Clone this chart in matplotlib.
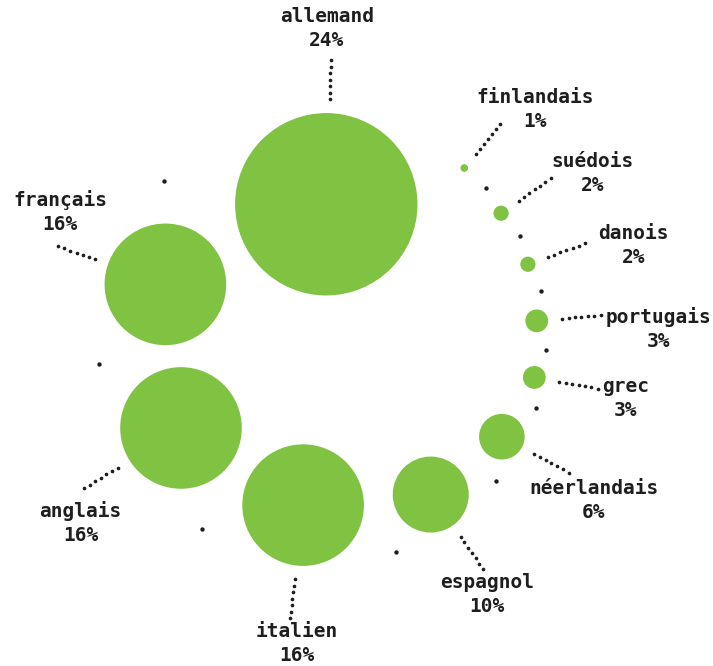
import numpy as np
import matplotlib.pyplot as plt
from matplotlib.patches import Circle

# Langues (ordre croissant, dans le sens horaire)
langues = ["finlandais", "suédois", "danois", "portugais", "grec",
           "néerlandais", "espagnol", "italien", "anglais", "français", "allemand"]
parts = [1, 2, 2, 3, 3, 6, 10, 16, 16, 16, 24]

# Décalage des étiquettes par rapport au bout des pointillés (pixels)
decalages = [(35, -27), (42, -17), (49, -10), (58, 2), (28, -2), (25, 16),
             (4, 14), (7, 13), (-4, 23), (2, -46), (-4, -44)]

vert = "#80c242"
encre = "#1e1e1e"

# Mise en page de l'anneau
cx, cy = 322, 340      # centre de l'anneau
R = 227                # rayon extérieur
k = 3.8                # pixels par point de pourcentage (rayon)
ecart = np.radians(8.6)
largeur_min = np.radians(6.5)
depart = np.radians(50.4)

r = k * np.array(parts, dtype=float)
d = R - r
largeur = np.maximum(2 * np.arcsin(r / d), largeur_min)
n = len(parts)
ang = np.zeros(n)
ang[0] = depart
for i in range(1, n):
    ang[i] = ang[i - 1] - largeur[i - 1] / 2 - ecart - largeur[i] / 2
sep = ang[:-1] - largeur[:-1] / 2 - ecart / 2

fig = plt.figure(figsize=(7.13, 6.66), dpi=100)
ax = fig.add_axes([0, 0, 1, 1])
ax.set_xlim(0, 713)
ax.set_ylim(666, 0)
ax.axis('off')

# Cercles
for i in range(n):
    x = cx + d[i] * np.cos(ang[i])
    y = cy - d[i] * np.sin(ang[i])
    ax.add_patch(Circle((x, y), r[i], color=vert, lw=0))

# Petits points séparateurs
ax.scatter(cx + 224 * np.cos(sep), cy - 224 * np.sin(sep), s=10, color=encre, lw=0)

# Pointillés et étiquettes
t = np.linspace(241, 280, 7)
for i in range(n):
    px = cx + t * np.cos(ang[i])
    py = cy - t * np.sin(ang[i])
    ax.scatter(px, py, s=7, color=encre, lw=0)
    ex, ey = px[-1], py[-1]
    dx, dy = decalages[i]
    ax.text(ex + dx, ey + dy, langues[i], ha='center', va='center',
            fontsize=14, family='DejaVu Sans Mono', fontweight='bold', color=encre)
    ax.text(ex + dx, ey + dy + 24, f"{parts[i]}%", ha='center', va='center',
            fontsize=14, family='DejaVu Sans Mono', fontweight='bold', color=encre)

fig.savefig("out.png", dpi=100)
